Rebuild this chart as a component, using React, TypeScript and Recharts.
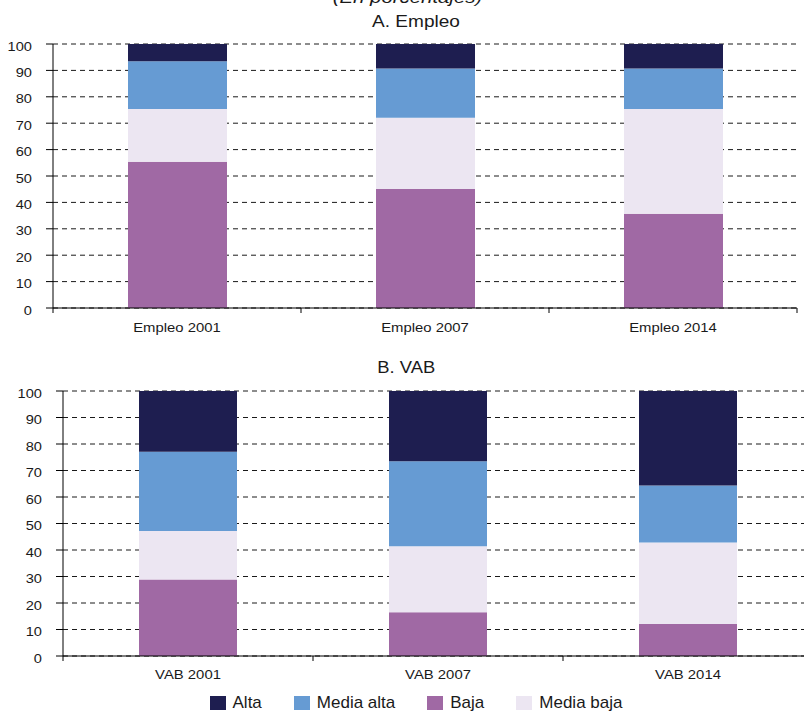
import React from "react";
import { Bar, BarChart, CartesianGrid, XAxis, YAxis } from "recharts";

// Panel A: employment shares (%)
const categoriesA = ["Empleo 2001", "Empleo 2007", "Empleo 2014"];
const bajaA = [55.4, 45.1, 35.7];
const mediaBajaA = [20.0, 27.0, 39.7];
const mediaAltaA = [18.1, 18.6, 15.3];
const altaA = [6.5, 9.3, 9.3];

// Panel B: VAB shares (%)
const categoriesB = ["VAB 2001", "VAB 2007", "VAB 2014"];
const bajaB = [28.9, 16.5, 12.1];
const mediaBajaB = [18.3, 24.9, 30.7];
const mediaAltaB = [29.9, 32.1, 21.5];
const altaB = [22.9, 26.5, 35.7];

const yTicks = [0, 10, 20, 30, 40, 50, 60, 70, 80, 90, 100];

// stacking order, bottom to top
const series = [
  { key: "baja", name: "Baja", color: "#a069a4" },
  { key: "mediaBaja", name: "Media baja", color: "#ece6f2" },
  { key: "mediaAlta", name: "Media alta", color: "#669bd3" },
  { key: "alta", name: "Alta", color: "#1e1e50" },
];
const legendOrder = ["alta", "mediaAlta", "baja", "mediaBaja"];

const FONT = "'Liberation Sans', Arial, sans-serif";
const TEXT = "#1a1a1a";
const RIGHT = 7;

function buildRows(
  categories: string[],
  baja: number[],
  mediaBaja: number[],
  mediaAlta: number[],
  alta: number[]
) {
  return categories.map((name, i) => ({
    name,
    baja: baja[i],
    mediaBaja: mediaBaja[i],
    mediaAlta: mediaAlta[i],
    alta: alta[i],
  }));
}

const dataA = buildRows(categoriesA, bajaA, mediaBajaA, mediaAltaA, altaA);
const dataB = buildRows(categoriesB, bajaB, mediaBajaB, mediaAltaB, altaB);

function YTick({ x, y, payload }: any) {
  return (
    <text
      transform={`translate(${x},${y}) scale(1.17,1)`}
      textAnchor="end"
      dy={6.5}
      fontSize={12.5}
      fontFamily={FONT}
      fill={TEXT}
    >
      {payload.value}
    </text>
  );
}

function makeXTick(band: number, labelDy: number, last: string) {
  return function XTick({ x, y, payload }: any) {
    return (
      <g>
        <line x1={x - band / 2} x2={x - band / 2} y1={y} y2={y + 5} stroke="#000" />
        {payload.value === last && (
          <line x1={x + band / 2} x2={x + band / 2} y1={y} y2={y + 5} stroke="#000" />
        )}
        <text
          transform={`translate(${x},${y + labelDy}) scale(1.24,1)`}
          textAnchor="middle"
          fontSize={12}
          fontFamily={FONT}
          fill={TEXT}
        >
          {payload.value}
        </text>
      </g>
    );
  };
}

interface PanelProps {
  data: any[];
  categories: string[];
  top: number;
  width: number;
  height: number;
  marginTop: number;
  axisWidth: number;
  xHeight: number;
  barSize: number;
  labelDy: number;
}

function Panel({ data, categories, top, width, height, marginTop, axisWidth, xHeight, barSize, labelDy }: PanelProps) {
  const band = (width - axisWidth - RIGHT) / categories.length;
  const XTick = makeXTick(band, labelDy, categories[categories.length - 1]);
  return (
    <div style={{ position: "absolute", left: 0, top }}>
      <BarChart
        width={width}
        height={height}
        data={data}
        margin={{ top: marginTop, right: RIGHT, bottom: 0, left: 0 }}
      >
        <CartesianGrid vertical={false} stroke="#1a1a1a" strokeDasharray="5 4" />
        <XAxis
          dataKey="name"
          height={xHeight}
          interval={0}
          axisLine={{ stroke: "#000" }}
          tickLine={false}
          tickSize={0}
          tickMargin={0}
          tick={<XTick />}
        />
        <YAxis
          type="number"
          domain={[0, 100]}
          ticks={yTicks}
          interval={0}
          width={axisWidth}
          axisLine={{ stroke: "#000" }}
          tickLine={{ stroke: "#000" }}
          tickSize={7}
          tickMargin={14}
          tick={<YTick />}
        />
        {series.map((s) => (
          <Bar
            key={s.key}
            dataKey={s.key}
            name={s.name}
            stackId="s"
            fill={s.color}
            barSize={barSize}
            isAnimationActive={false}
          />
        ))}
      </BarChart>
    </div>
  );
}

export default function App() {
  return (
    <div
      style={{
        position: "absolute",
        left: 0,
        top: 0,
        width: 804,
        height: 712,
        overflow: "hidden",
        background: "#fff",
        fontFamily: FONT,
      }}
    >
      <Panel
        data={dataA}
        categories={categoriesA}
        top={0}
        width={804}
        height={340}
        marginTop={44}
        axisWidth={53}
        xHeight={32}
        barSize={99}
        labelDy={24}
      />
      <Panel
        data={dataB}
        categories={categoriesB}
        top={350}
        width={820}
        height={336}
        marginTop={41}
        axisWidth={63}
        xHeight={30}
        barSize={98}
        labelDy={22.5}
      />

      <svg
        width={804}
        height={712}
        style={{ position: "absolute", left: 0, top: 0, pointerEvents: "none" }}
      >
        <text
          transform="translate(407.5,3) scale(1.2,1)"
          textAnchor="middle"
          fontSize={17}
          fontStyle="italic"
          fontFamily={FONT}
          fill={TEXT}
        >
          (En porcentajes)
        </text>
        <text
          transform="translate(416,26.7) scale(1.19,1)"
          textAnchor="middle"
          fontSize={16}
          fontFamily={FONT}
          fill={TEXT}
        >
          A. Empleo
        </text>
        <text
          transform="translate(406.3,373.3) scale(1.15,1)"
          textAnchor="middle"
          fontSize={16}
          fontFamily={FONT}
          fill={TEXT}
        >
          B. VAB
        </text>
      </svg>

      <div
        style={{
          position: "absolute",
          left: 0,
          top: 693.4,
          width: 832,
          display: "flex",
          justifyContent: "center",
          gap: 32,
        }}
      >
        {legendOrder.map((k) => {
          const s = series.find((d) => d.key === k)!;
          return (
            <div key={k} style={{ display: "flex", alignItems: "center" }}>
              <span
                style={{ width: 16, height: 14, background: s.color, marginRight: 7, display: "inline-block" }}
              />
              <span style={{ fontSize: 17, lineHeight: "20px", color: TEXT, whiteSpace: "nowrap" }}>{s.name}</span>
            </div>
          );
        })}
      </div>
    </div>
  );
}
